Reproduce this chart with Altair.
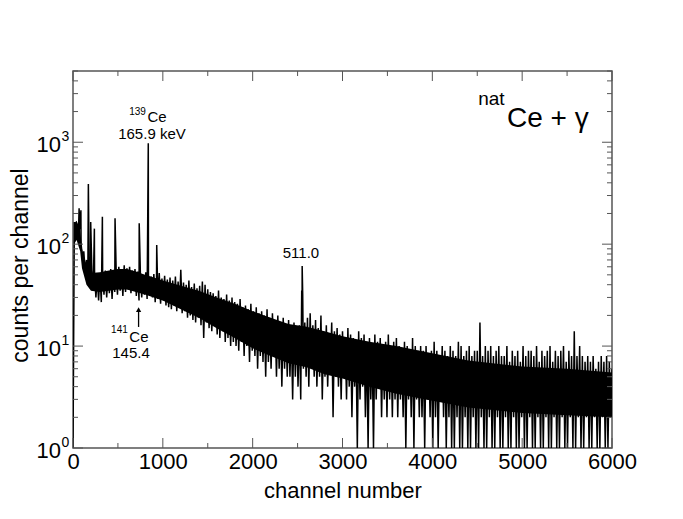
import altair as alt
import pandas as pd

FONT = "Liberation Sans"

# ---- spectrum: counts read every 15 channels (channel = index * STEP) ----
STEP = 15
COUNTS = [
    1, 165, 120, 150, 125, 140, 100, 75, 85, 55, 70, 45, 60, 40, 55, 35, 50, 30, 48, 28,
    52, 27, 50, 32, 55, 30, 52, 33, 57, 29, 55, 34, 58, 32, 60, 35, 56, 31, 62, 34,
    58, 36, 60, 33, 55, 35, 57, 31, 54, 28, 52, 30, 50, 32, 53, 29, 50, 31, 48, 30,
    51, 27, 47, 29, 52, 26, 46, 28, 49, 25, 45, 24, 47, 23, 44, 25, 48, 22, 43, 24,
    56, 21, 42, 22, 40, 19, 44, 20, 38, 18, 41, 17, 37, 19, 39, 16, 43, 12, 40, 17,
    36, 15, 34, 14, 33, 16, 31, 13, 35, 12, 30, 14, 29, 11, 32, 12, 28, 10, 30, 11,
    27, 10, 26, 9, 29, 11, 24, 8, 25, 10, 23, 7, 26, 9, 22, 8, 24, 6, 21, 8,
    22, 7, 20, 5, 23, 7, 19, 6, 21, 8, 18, 5, 20, 6, 17, 4, 19, 6, 16, 5,
    18, 5, 16, 3, 17, 5, 15, 4, 16, 3, 18, 6, 17, 5, 19, 4, 21, 6, 16, 5,
    18, 4, 15, 5, 20, 3, 14, 5, 16, 4, 13, 6, 17, 2, 14, 5, 15, 4, 13, 3,
    14, 5, 12, 3, 15, 4, 13, 2, 12, 4, 11, 1, 14, 3, 12, 4, 13, 2, 11, 1,
    12, 3, 10, 1, 13, 3, 11, 4, 12, 2, 10, 3, 11, 2, 13, 3, 10, 2, 11, 3,
    12, 2, 10, 3, 9, 2, 11, 1, 10, 3, 9, 2, 12, 1, 10, 3, 9, 2, 10, 2,
    9, 1, 10, 3, 8, 2, 9, 1, 11, 2, 9, 1, 8, 3, 10, 2, 9, 1, 8, 2,
    10, 1, 9, 1, 8, 2, 11, 1, 10, 1, 8, 2, 9, 1, 10, 1, 8, 2, 9, 1,
    9, 1, 17, 2, 8, 1, 10, 1, 9, 2, 10, 1, 8, 1, 9, 2, 10, 1, 8, 1,
    8, 2, 10, 1, 7, 1, 9, 2, 8, 1, 9, 1, 7, 2, 10, 1, 8, 1, 9, 2,
    9, 1, 8, 1, 10, 2, 7, 1, 9, 1, 8, 2, 9, 1, 10, 1, 7, 2, 9, 1,
    8, 1, 9, 2, 10, 1, 7, 1, 9, 2, 8, 1, 14, 1, 8, 2, 10, 1, 8, 1,
    7, 2, 8, 1, 7, 1, 8, 2, 6, 1, 7, 1, 8, 2, 7, 1, 8, 1, 7, 2,
    6,
]

# narrow peaks (channel, counts)
PEAK_CH = [68, 88, 171, 197, 238, 327, 468, 737, 838, 932, 2546, 2551, 2557]
PEAK_COUNTS = [225, 215, 390, 165, 142, 186, 180, 160, 980, 98, 35, 61, 32]

# dense (solid-looking) core of the noisy band: channel, lower and upper counts
CORE_CH = [12, 40, 80, 100, 150, 200, 300, 400, 500, 600, 700, 800, 900, 1000, 1200, 1400,
           1600, 1800, 2000, 2200, 2400, 2600, 2800, 3000, 3300, 3600, 4000, 4400, 5000,
           5500, 6000]
CORE_LO = [100, 110, 85, 58, 40, 35, 34, 35, 36, 36, 34, 32, 30, 28, 23, 19,
           15, 12, 9.5, 8, 6.8, 6.2, 5.3, 4.8, 4.0, 3.4, 2.9, 2.5, 2.2,
           2.1, 2.0]
CORE_HI = [160, 170, 140, 90, 60, 52, 53, 55, 57, 57, 54, 50, 47, 44, 39, 35,
           30, 26, 22, 19, 16.5, 15.5, 14, 12.5, 11, 10, 8.5, 7.2, 6.3,
           6, 5.5]

# ---- axes ----
X_MAJOR = [0, 1000, 2000, 3000, 4000, 5000, 6000]
X_MINOR = [500, 1500, 2500, 3500, 4500, 5500]
Y_MAJOR = [1, 10, 100, 1000]
Y_EXP = ["0", "1", "2", "3"]
Y_MINOR = [2, 3, 4, 5, 6, 7, 8, 9, 20, 30, 40, 50, 60, 70, 80, 90,
           200, 300, 400, 500, 600, 700, 800, 900, 2000, 3000, 4000, 5000]

# ---- annotations (channel, counts) ----
ANN_TEXT = ["165.9 keV", "139", "Ce", "141", "Ce", "145.4", "511.0", "nat", "Ce + γ"]
ANN_CH = [879, 811, 829, 610, 627, 646, 2538, 4805, 4831]
ANN_CNT = [1075, 1849, 1565, 13.4, 10.9, 7.7, 73.1, 2317, 1410]
ANN_SIZE = [15, 10, 15, 10, 15, 15, 15, 19, 28]
ANN_ALIGN = ["center", "right", "left", "right", "left", "center", "center", "right", "left"]

ARROW_CH = [730]
ARROW_FROM = [15.4]
ARROW_TO = [22.0]
ARROW_HEAD = [22.8]

W, H = 539, 377
FRAME = "#555555"

rows = [(i * STEP, c) for i, c in enumerate(COUNTS)] + list(zip(PEAK_CH, PEAK_COUNTS))
rows.sort(key=lambda r: r[0])
spec = pd.DataFrame(rows, columns=["ch", "c"])
core = pd.DataFrame({"ch": CORE_CH, "lo": CORE_LO, "hi": CORE_HI})

xs = alt.Scale(domain=[0, 6000], nice=False, zero=False)
ys = alt.Scale(type="log", domain=[1, 5000], nice=False)

XAXIS = alt.Axis(values=X_MAJOR, format="d", title="channel number",
                 labelFontSize=22, labelFont=FONT, labelColor="black",
                 ticks=False, domain=False, labelPadding=3,
                 titleFontSize=22, titleFont=FONT, titleFontWeight="normal",
                 titleColor="black", titleY=49, titleBaseline="alphabetic",
                 grid=False, labelFlush=False)
YAXIS = alt.Axis(title="counts per channel", labels=False, ticks=False,
                 domain=False, grid=False, titleFontSize=23, titleFont=FONT,
                 titleFontWeight="normal", titleColor="black",
                 titleX=-46, titleY=194, titleBaseline="alphabetic")


def X(field):
    return alt.X(field, scale=xs, axis=XAXIS)


def Y(field):
    return alt.Y(field, scale=ys, axis=YAXIS)


band = alt.Chart(core).mark_area(color="black", opacity=1, clip=True).encode(
    x=X("ch:Q"), y=Y("lo:Q"), y2="hi:Q")

line = alt.Chart(spec).mark_line(color="black", strokeWidth=1.5, clip=True).encode(
    x=alt.X("ch:Q", scale=xs, axis=XAXIS, sort=None),
    y=Y("c:Q"),
    order=alt.Order("ch:Q"),
)

ymaj = pd.DataFrame({"v": Y_MAJOR, "exp": Y_EXP})
ymin = pd.DataFrame({"v": Y_MINOR})
xmaj = pd.DataFrame({"v": X_MAJOR})
xmin = pd.DataFrame({"v": X_MINOR})


def yticks(df, length):
    left = alt.Chart(df).mark_rule(color=FRAME, strokeWidth=1).encode(
        y=Y("v:Q"), x=alt.value(0), x2=alt.value(length))
    right = alt.Chart(df).mark_rule(color=FRAME, strokeWidth=1).encode(
        y=Y("v:Q"), x=alt.value(W - length), x2=alt.value(W))
    return [left, right]


def xticks(df, length):
    bottom = alt.Chart(df).mark_rule(color=FRAME, strokeWidth=1).encode(
        x=X("v:Q"), y=alt.value(H - length), y2=alt.value(H))
    top = alt.Chart(df).mark_rule(color=FRAME, strokeWidth=1).encode(
        x=X("v:Q"), y=alt.value(0), y2=alt.value(length))
    return [bottom, top]


ylab = alt.Chart(ymaj).mark_text(align="right", baseline="alphabetic", dy=10,
                                 fontSize=22, font=FONT, color="black").encode(
    y=Y("v:Q"), x=alt.value(-12), text=alt.value("10"))
yexp = alt.Chart(ymaj).mark_text(align="left", baseline="alphabetic", dy=-1.5,
                                 fontSize=14, font=FONT, color="black").encode(
    y=Y("v:Q"), x=alt.value(-11.5), text="exp:N")

ann = pd.DataFrame({"t": ANN_TEXT, "ch": ANN_CH, "c": ANN_CNT,
                    "fs": ANN_SIZE, "al": ANN_ALIGN})
ann_layers = []
for al in ["left", "center", "right"]:
    ann_layers.append(
        alt.Chart(ann).transform_filter(alt.datum.al == al)
        .mark_text(align=al, baseline="alphabetic", font=FONT, color="black")
        .encode(x=X("ch:Q"), y=Y("c:Q"),
                text="t:N", size=alt.Size("fs:Q", scale=None, legend=None))
    )

arrow_df = pd.DataFrame({"ch": ARROW_CH, "a": ARROW_FROM, "b": ARROW_TO, "h": ARROW_HEAD})
arrow = alt.Chart(arrow_df).mark_rule(color="black", strokeWidth=1.3).encode(
    x=X("ch:Q"), y=Y("a:Q"), y2="b:Q")
head = alt.Chart(arrow_df).mark_point(shape="triangle-up", filled=True, color="black",
                                      size=28, opacity=1).encode(
    x=X("ch:Q"), y=Y("h:Q"))

chart = alt.layer(
    band, line,
    *yticks(ymaj, 10), *yticks(ymin, 5), *xticks(xmaj, 10), *xticks(xmin, 5),
    ylab, yexp, *ann_layers, arrow, head,
).properties(
    width=W, height=H,
    autosize=alt.AutoSizeParams(type="none"),
    padding={"left": 65, "top": 63, "right": 63, "bottom": 63},
).configure_view(
    stroke=FRAME, strokeWidth=1.5
).configure_axis(grid=False)

chart.save("out.html", embed_options={"renderer": "svg", "actions": False})
